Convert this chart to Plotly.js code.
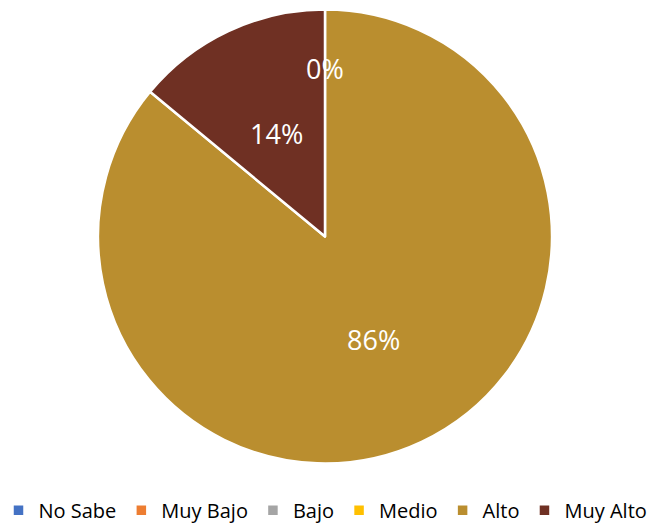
<!DOCTYPE html>
<html><head><meta charset="utf-8">
<script src="https://cdn.plot.ly/plotly-3.0.1.min.js"></script>
<style>html,body{margin:0;padding:0;background:#fff}#chart{width:651px;height:527px}</style>
</head><body><div id="chart"></div>
<script>
const categories = ["No Sabe", "Muy Bajo", "Bajo", "Medio", "Alto", "Muy Alto"];
const values = [0, 0, 0, 0, 86, 14];
const colors = ["#4472C4", "#ED7D31", "#A5A5A5", "#FFC000", "#BA8E2F", "#6F3023"];

const W = 651, H = 527;
const domX = [98/W, 552/W];
const domY = [63/H, 518/H];
const FONT = "Open Sans, Liberation Sans, sans-serif";

const trace = {
  type: "pie",
  labels: categories,
  values: values,
  sort: false,
  direction: "clockwise",
  rotation: 0,
  marker: {colors: colors, line: {color: "#ffffff", width: 2.5}},
  textinfo: "none",
  domain: {x: domX, y: domY},
  hoverinfo: "label+percent"
};

// data labels placed at each slice's mid-angle (Excel-style)
const total = values.reduce((a, b) => a + b, 0);
const cxPx = (domX[0] + domX[1]) / 2 * W;
const cyPx = H - (domY[0] + domY[1]) / 2 * H;
const Rpx = (domY[1] - domY[0]) * H / 2;
const annotations = [];
const seen = new Set();
let cum = 0;
values.forEach((v, i) => {
  const frac = v / total;
  const mid = (cum + frac / 2) * 2 * Math.PI;
  cum += frac;
  const r = (v > 0 ? 0.5 : 0.74) * Rpx;
  const px = cxPx + Math.sin(mid) * r;
  const py = cyPx - Math.cos(mid) * r;
  const key = Math.round(px) + "," + Math.round(py);
  if (seen.has(key)) return;
  seen.add(key);
  annotations.push({
    x: px / W, y: 1 - py / H, xref: "paper", yref: "paper",
    text: Math.round(frac * 100) + "%", showarrow: false,
    xanchor: "center", yanchor: "middle",
    font: {color: "#ffffff", size: 27, family: FONT}
  });
});

const layout = {
  width: W, height: H,
  margin: {l: 0, r: 0, t: 0, b: 0, autoexpand: false},
  paper_bgcolor: "#ffffff",
  showlegend: true,
  legend: {
    orientation: "h", x: 0.5, xanchor: "center", y: -0.005, yanchor: "bottom",
    font: {size: 20, color: "#000000", family: FONT},
    traceorder: "normal", itemwidth: 30
  },
  annotations: annotations,
  font: {family: FONT}
};

Plotly.newPlot("chart", [trace], layout, {displayModeBar: false, staticPlot: true});
</script></body></html>
